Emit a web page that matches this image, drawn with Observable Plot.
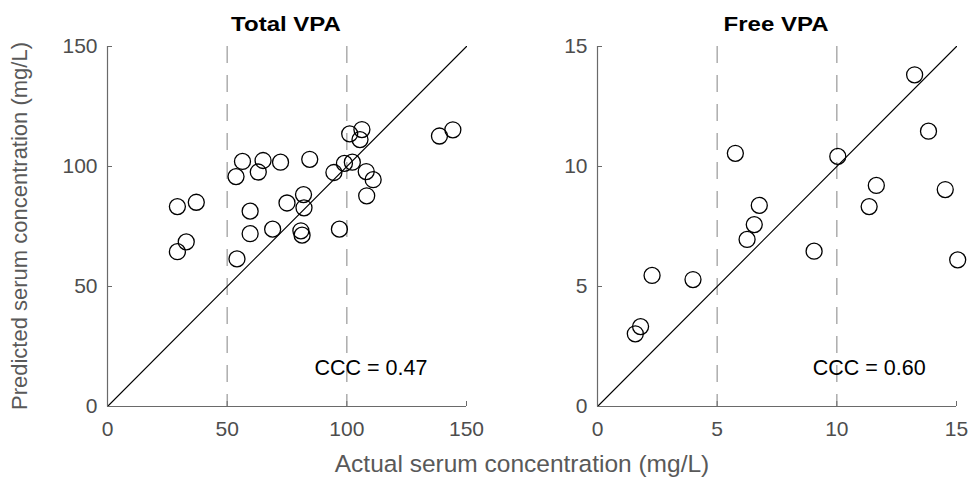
<!DOCTYPE html>
<html>
<head>
<meta charset="utf-8">
<script src="https://cdn.jsdelivr.net/npm/d3@7"></script>
<script src="https://cdn.jsdelivr.net/npm/@observablehq/plot@0.6"></script>
<style>
  html, body { margin: 0; padding: 0; background: #fff; }
  #wrap { position: relative; width: 972px; height: 482px; overflow: hidden; font-family: "Liberation Sans", Arial, sans-serif; }
  .panel { position: absolute; top: 0; }
  .title { position: absolute; font-weight: bold; font-size: 20px; color: #000; white-space: nowrap; transform: translateX(-50%) scaleX(1.2); transform-origin: center; }
  .lab { position: absolute; font-size: 21.5px; color: #595959; white-space: nowrap; }
</style>
</head>
<body>
<div id="wrap">
  <div class="panel" id="left" style="left:0px"></div>
  <div class="panel" id="right" style="left:490px"></div>
  <div class="title" style="left:286px; top:13px">Total VPA</div>
  <div class="title" style="left:776px; top:13px">Free VPA</div>
  <div class="lab" style="left:522px; top:450px; font-size:24.5px; transform: translateX(-50%)">Actual serum concentration (mg/L)</div>
  <div class="lab" style="left:20px; top:226px; font-size:22px; transform: translate(-50%,-50%) rotate(-90deg)">Predicted serum concentration (mg/L)</div>
</div>
<script>
// Total VPA (mg/L)
const totalActual = [29.2, 29.2, 32.9, 37.1, 53.7, 56.4, 54.1, 59.6, 59.6, 63.0, 65.0, 69.0, 72.3, 75.0, 81.9, 82.1, 80.8, 81.3, 84.5, 94.6, 96.9, 99.0, 101.2, 102.3, 105.5, 106.3, 108.1, 108.3, 111.0, 138.7, 144.3];
const totalPred   = [64.5, 83.3, 68.6, 85.1, 95.8, 102.1, 61.5, 81.4, 72.0, 97.7, 102.5, 73.9, 101.8, 84.8, 88.3, 82.8, 73.2, 71.4, 103.0, 97.5, 73.9, 101.3, 113.6, 101.8, 111.2, 115.4, 97.9, 87.8, 94.5, 112.7, 115.3];
// Free VPA (mg/L)
const freeActual = [1.58, 1.80, 2.28, 3.99, 5.76, 6.76, 6.55, 6.25, 13.25, 13.83, 10.04, 11.65, 11.35, 14.53, 9.05, 15.05];
const freePred   = [3.03, 3.33, 5.46, 5.29, 10.55, 8.38, 7.58, 6.96, 13.82, 11.47, 10.42, 9.21, 8.33, 9.04, 6.47, 6.11];

const totalLimits = [0, 150];
const freeLimits = [0, 15];
const totalTicks = [0, 50, 100, 150];
const freeTicks = [0, 5, 10, 15];
const totalRefs = [50, 100];
const freeRefs = [5, 10];
const cccLabels = ["CCC = 0.47", "CCC = 0.60"];
const cccPos = [[110.1, 15.8], [11.35, 1.58]];

function panel(xs, ys, limits, ticks, refs, ccc, pos, opts) {
  const pts = xs.map((x, i) => ({x, y: ys[i]}));
  const diag = limits.map(v => ({x: v, y: v}));
  const axisColor = "#6a6a6a";
  const font = "Liberation Sans, Arial, sans-serif";
  return Plot.plot({
    width: opts.width,
    height: 482,
    marginLeft: 107,
    marginRight: opts.marginRight,
    marginTop: 46,
    marginBottom: 76,
    style: {fontFamily: font, background: "transparent", overflow: "visible"},
    x: {domain: limits, ticks, label: null},
    y: {domain: limits, ticks, label: null},
    marks: [
      Plot.ruleX(refs, {stroke: "#a0a0a0", strokeWidth: 1.3, strokeDasharray: "17,12"}),
      Plot.line(diag, {x: "x", y: "y", stroke: "#000", strokeWidth: 1.1}),
      Plot.dot(pts, {x: "x", y: "y", r: 8, stroke: "#000", strokeWidth: 1.3, fill: "none"}),
      Plot.ruleY([limits[0]], {stroke: axisColor, strokeWidth: 1.2}),
      Plot.ruleX([limits[0]], {stroke: axisColor, strokeWidth: 1.2}),
      Plot.axisX(ticks, {tickSize: 5, dy: -5, text: null, stroke: axisColor, label: null}),
      Plot.axisY(ticks, {tickSize: 5, dx: 5, text: null, stroke: axisColor, label: null}),
      Plot.axisX(ticks, {tickSize: 0, tickPadding: 15, fontSize: 21, fill: "#4d4d4d", label: null}),
      Plot.axisY(ticks, {tickSize: 0, tickPadding: 10, fontSize: 21, fill: "#4d4d4d", label: null}),
      Plot.text([ccc], {x: () => pos[0], y: () => pos[1], text: d => d, fontSize: 21.5, fill: "#000", textAnchor: "middle", lineAnchor: "middle"})
    ]
  });
}

document.getElementById("left").appendChild(
  panel(totalActual, totalPred, totalLimits, totalTicks, totalRefs, cccLabels[0], cccPos[0], {width: 480, marginRight: 14})
);
document.getElementById("right").appendChild(
  panel(freeActual, freePred, freeLimits, freeTicks, freeRefs, cccLabels[1], cccPos[1], {width: 482, marginRight: 16})
);
</script>
</body>
</html>
